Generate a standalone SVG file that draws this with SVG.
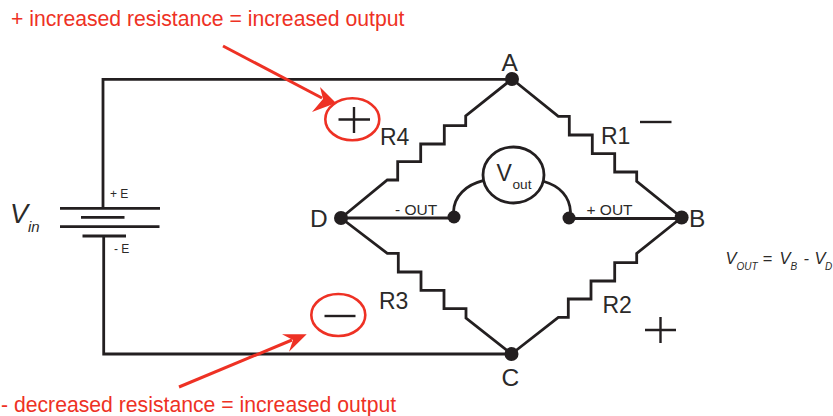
<svg xmlns="http://www.w3.org/2000/svg" width="833" height="416" viewBox="0 0 833 416">
<style>
text{font-family:"Liberation Sans",Arial,sans-serif;fill:#2b2a29}
.w{fill:none;stroke:#231f20;stroke-width:2.800;stroke-linejoin:miter}
.t{fill:none;stroke:#231f20;stroke-width:2.400}
.d{fill:#231f20}
.r{fill:none;stroke:#ee3124;stroke-width:2.600}
.ra{fill:none;stroke:#ee3124;stroke-width:3}
.rh{fill:#ee3124}
.rt{fill:#ee3124;font-size:21.200px}
.l{font-size:24.500px}
.n{font-size:23px}
.s{font-size:15.500px}
.e{font-size:12px}
.i{font-style:italic}
.f{font-size:16.500px}
.u{font-size:10px}
</style>
<g id="connectors">
<path class="w" d="M512 79.300H103V208"/>
<path class="w" d="M103.700 236V354H511.500"/>
<path class="w" d="M512 79L465.700 116V125.700H444.300V144H420.700V161.700H397.700V180H387.300L341 218"/>
<path class="w" d="M512 79L558.300 116.300H569.300V135H592.300V153.700H614.700V172H636.700V181.300L681.600 217.500"/>
<path class="w" d="M341 218L387.300 253.300H398.300V272H421V290.300H444V308.700H466V318L511.500 354"/>
<path class="w" d="M681.600 217.500L636.700 253.300V262.700H614.700V281H591V299H568.300V317.300H558.300L511.500 354"/>
<path class="w" d="M341 218H454M569 218.500H681.600"/>
<path class="w" d="M453.500 212C454 196 466 185 483 180.700"/>
<path class="w" d="M570.500 212C570 197 560 186 544 181.500"/>
<path class="ra" d="M223 46L322 98"/>
<path class="rh" d="M336 103L320 87L323 99L312 112Z"/>
<path class="ra" d="M179 387L292 340"/>
<path class="rh" d="M306.700 334.300L282 334.300L293 340L289 351.700Z"/>
</g>
<g id="battery">
<path class="w" d="M60 208.300H160M81 217.300H124.500M60 226.700H159.500M82.500 236H126"/>
<text class="e" x="110" y="198">+ E</text>
<text class="e" x="114" y="252.700">- E</text>
<text class="i" x="10" y="222.500" font-size="27">V</text>
<text class="i" x="28" y="232" font-size="15">in</text>
</g>
<g id="node-a"><circle class="d" cx="512" cy="79" r="7"/><text class="l" x="501.500" y="70.500">A</text></g>
<g id="node-b"><circle class="d" cx="681.600" cy="217.500" r="7"/><text class="l" x="689" y="227.300">B</text></g>
<g id="node-c"><circle class="d" cx="511.500" cy="354" r="7"/><text class="l" x="501.500" y="386">C</text></g>
<g id="node-d"><circle class="d" cx="341" cy="218" r="7"/><text class="l" x="310" y="226.700">D</text></g>
<g id="node-out-minus"><circle class="d" cx="454" cy="217" r="6.500"/><text class="s" x="395" y="214.500">- OUT</text></g>
<g id="node-out-plus"><circle class="d" cx="569" cy="218" r="6.500"/><text class="s" x="586.500" y="214.500">+ OUT</text></g>
<g id="vout"><ellipse cx="513.500" cy="175" rx="30.500" ry="28" fill="#fff" stroke="#231f20" stroke-width="2.800"/>
<text x="496.500" y="181" font-size="23">V</text><text x="512.500" y="189" font-size="13.700">out</text></g>
<g id="r1"><text class="n" x="601" y="144">R1</text></g>
<g id="r2"><text class="n" x="602.500" y="313.300">R2</text></g>
<g id="r3"><text class="n" x="379" y="309.300">R3</text></g>
<g id="r4"><text class="n" x="380" y="144.700">R4</text></g>
<g id="sign-plus-circled"><ellipse class="r" cx="352.300" cy="119.300" rx="27" ry="21"/><path class="t" d="M338.500 119.500H370M354 107V133"/></g>
<g id="sign-minus-circled"><ellipse class="r" cx="338.300" cy="315" rx="27" ry="21"/><path class="t" d="M324.500 316H355.500"/></g>
<g id="sign-minus"><path class="t" d="M640 122H671.500"/></g>
<g id="sign-plus"><path class="t" d="M645 330H676M660.500 317V343"/></g>
<g id="label-top"><text class="rt" x="11" y="26">+ increased resistance = increased output</text></g>
<g id="label-bottom"><text class="rt" x="1" y="412">- decreased resistance = increased output</text></g>
<g id="formula"><text class="i f" x="725.500" y="264.300">V</text><text class="i u" x="736.500" y="270">OUT</text><text class="i f" x="762.500" y="264.300">=</text><text class="i f" x="779.500" y="264.300">V</text><text class="i u" x="790.500" y="270">B</text><text class="i f" x="803.500" y="264.300">-</text><text class="i f" x="814.500" y="264.300">V</text><text class="i u" x="825" y="270">D</text></g>
</svg>
